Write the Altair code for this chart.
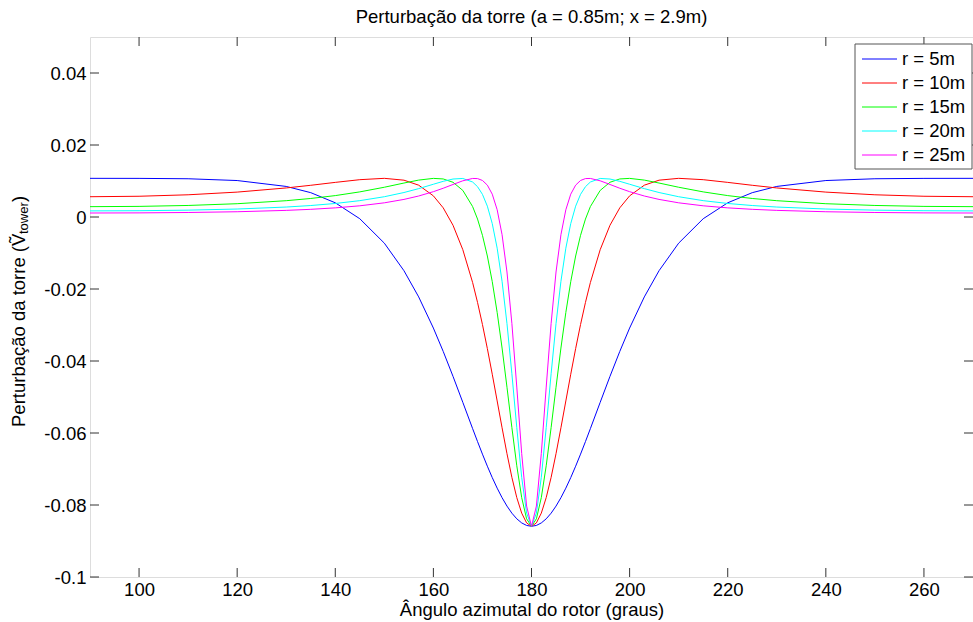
import altair as alt
import pandas as pd

# Azimuth angle (degrees)
ANGLES = [90, 100, 110, 120, 130, 135, 140, 145, 150, 154, 157, 160, 162, 164, 166, 168, 169,
          170, 171, 172, 173, 174, 175, 176, 177, 178, 179, 180, 181, 182, 183, 184, 185, 186,
          187, 188, 189, 190, 191, 192, 194, 196, 198, 200, 203, 206, 210, 215, 220, 225, 230,
          240, 250, 260, 270]

R5 = [0.010738, 0.010729, 0.010624, 0.010128, 0.008491, 0.006759, 0.003949, -0.000484, -0.007262,
      -0.01492, -0.02220, -0.03085, -0.03733, -0.04426, -0.05149, -0.05879, -0.06238, -0.06587,
      -0.06922, -0.07239, -0.07532, -0.07797, -0.08030, -0.08227, -0.08384, -0.08498, -0.08568,
      -0.08591,
      -0.08568, -0.08498, -0.08384, -0.08227, -0.08030, -0.07797, -0.07532, -0.07239, -0.06922,
      -0.06587, -0.06238, -0.05879, -0.05149, -0.04426, -0.03733, -0.03085, -0.02220, -0.01492,
      -0.007262, -0.000484, 0.003949, 0.006759, 0.008491, 0.010128, 0.010624, 0.010729, 0.010738]

R10 = [0.005631, 0.005761, 0.006171, 0.006915, 0.008069, 0.008808, 0.009615, 0.010369, 0.010738,
       0.010230, 0.008837, 0.005875, 0.002552, -0.002291, -0.009083, -0.01822, -0.02373, -0.02986,
       -0.03655, -0.04368, -0.05110, -0.05855, -0.06574, -0.07233, -0.07795, -0.08226, -0.08498,
       -0.08591,
       -0.08498, -0.08226, -0.07795, -0.07233, -0.06574, -0.05855, -0.05110, -0.04368, -0.03655,
       -0.02986, -0.02373, -0.01822, -0.009083, -0.002291, 0.002552, 0.005875, 0.008837, 0.010230,
       0.010738, 0.010369, 0.009615, 0.008808, 0.008069, 0.006915, 0.006171, 0.005761, 0.005631]

R15 = [0.002872, 0.002951, 0.003206, 0.003691, 0.004528, 0.005144, 0.005945, 0.006976, 0.008267,
       0.009433, 0.010250, 0.010728, 0.010570, 0.009646, 0.007384, 0.002891, -0.000572, -0.005087,
       -0.010834, -0.01796, -0.02652, -0.03640, -0.04728, -0.05850, -0.06911, -0.07795, -0.08384,
       -0.08591,
       -0.08384, -0.07795, -0.06911, -0.05850, -0.04728, -0.03640, -0.02652, -0.01796, -0.010834,
       -0.005087, -0.000572, 0.002891, 0.007384, 0.009646, 0.010570, 0.010728, 0.010250, 0.009433,
       0.008267, 0.006976, 0.005945, 0.005144, 0.004528, 0.003691, 0.003206, 0.002951, 0.002872]

R20 = [0.001696, 0.001746, 0.001905, 0.002215, 0.002766, 0.003187, 0.003757, 0.004541, 0.005631,
       0.006801, 0.007882, 0.009100, 0.009908, 0.010549, 0.010704, 0.009714, 0.008424, 0.006295,
       0.003008, -0.001833, -0.008662, -0.01787, -0.02961, -0.04354, -0.05849, -0.07231, -0.08226,
       -0.08591,
       -0.08226, -0.07231, -0.05849, -0.04354, -0.02961, -0.01787, -0.008662, -0.001833, 0.003008,
       0.006295, 0.008424, 0.009714, 0.010704, 0.010549, 0.009908, 0.009100, 0.007882, 0.006801,
       0.005631, 0.004541, 0.003757, 0.003187, 0.002766, 0.002215, 0.001905, 0.001746, 0.001696]

R25 = [0.001110, 0.001143, 0.001251, 0.001461, 0.001839, 0.002133, 0.002539, 0.003110, 0.003940,
       0.004886, 0.005831, 0.007034, 0.007990, 0.009036, 0.010055, 0.010711, 0.010671, 0.010150,
       0.008852, 0.006344, 0.002014, -0.004919, -0.01528, -0.02958, -0.04724, -0.06570, -0.08029,
       -0.08591,
       -0.08029, -0.06570, -0.04724, -0.02958, -0.01528, -0.004919, 0.002014, 0.006344, 0.008852,
       0.010150, 0.010671, 0.010711, 0.010055, 0.009036, 0.007990, 0.007034, 0.005831, 0.004886,
       0.003940, 0.003110, 0.002539, 0.002133, 0.001839, 0.001461, 0.001251, 0.001143, 0.001110]

SERIES = ["r = 5m", "r = 10m", "r = 15m", "r = 20m", "r = 25m"]
COLORS = ["#0000FF", "#FF0000", "#00FF00", "#00FFFF", "#FF00FF"]
XTICKS = [100, 120, 140, 160, 180, 200, 220, 240, 260]
YTICKS = [-0.1, -0.08, -0.06, -0.04, -0.02, 0, 0.02, 0.04]

TITLE = "Perturbação da torre (a = 0.85m; x = 2.9m)"
XTITLE = "Ângulo azimutal do rotor (graus)"
YTITLE_MAIN = "Perturbação da torre (V\u0303"
YTITLE_SUB = "tower"
YTITLE_END = ")"

FONT = "Liberation Sans, Arial, Helvetica"
FS = 18.5
AX = "#333333"

rows = []
for name, vals in zip(SERIES, [R5, R10, R15, R20, R25]):
    for a, v in zip(ANGLES, vals):
        rows.append({"angle": a, "v": v, "serie": name})
df = pd.DataFrame(rows)

W, H = 883, 540
xs = alt.Scale(domain=[90, 270], nice=False, zero=False)
ys = alt.Scale(domain=[-0.1, 0.05], nice=False, zero=False)

XAXIS = alt.Axis(values=XTICKS, tickSize=0, domain=False, grid=False,
                 labelPadding=3, labelFontSize=FS, labelFont=FONT, labelColor="black",
                 title=XTITLE, titleFontSize=FS, titleFont=FONT, titleFontWeight="normal",
                 titleColor="black", titlePadding=2)
YAXIS = alt.Axis(values=YTICKS, tickSize=0, domain=False, grid=False,
                 labelPadding=4, labelFontSize=FS, labelFont=FONT, labelColor="black",
                 labelExpr="toString(datum.value)", title="")

lines = alt.Chart(df).mark_line(strokeWidth=1, clip=True).encode(
    x=alt.X("angle:Q", scale=xs, axis=XAXIS),
    y=alt.Y("v:Q", scale=ys, axis=YAXIS),
    color=alt.Color("serie:N", scale=alt.Scale(domain=SERIES, range=COLORS), legend=None),
    order=alt.Order("angle:Q"),
)

xt = pd.DataFrame({"angle": XTICKS})
yt = pd.DataFrame({"v": YTICKS})
tick_b = alt.Chart(xt).mark_rule(color=AX, strokeWidth=1).encode(
    x=alt.X("angle:Q", scale=xs, axis=XAXIS), y=alt.value(H), y2=alt.value(H - 9))
tick_t = alt.Chart(xt).mark_rule(color=AX, strokeWidth=1).encode(
    x=alt.X("angle:Q", scale=xs, axis=XAXIS), y=alt.value(0), y2=alt.value(9))
tick_l = alt.Chart(yt).mark_rule(color=AX, strokeWidth=1).encode(
    y=alt.Y("v:Q", scale=ys, axis=YAXIS), x=alt.value(0), x2=alt.value(9))
tick_r = alt.Chart(yt).mark_rule(color=AX, strokeWidth=1).encode(
    y=alt.Y("v:Q", scale=ys, axis=YAXIS), x=alt.value(W), x2=alt.value(W - 9))

one = pd.DataFrame({"k": [0]})
yl_main = alt.Chart(one).mark_text(text=YTITLE_MAIN, angle=270, align="left", baseline="middle",
                                   fontSize=FS, font=FONT, color="black").encode(
    x=alt.value(-71), y=alt.value(390))
yl_sub = alt.Chart(one).mark_text(text=YTITLE_SUB, angle=270, align="left", baseline="middle",
                                  fontSize=13, font=FONT, color="black").encode(
    x=alt.value(-66), y=alt.value(197))
yl_end = alt.Chart(one).mark_text(text=YTITLE_END, angle=270, align="left", baseline="middle",
                                  fontSize=FS, font=FONT, color="black").encode(
    x=alt.value(-71), y=alt.value(165))

# Legend drawn by hand (box, line samples, labels) to match the MATLAB layout
LEG_L, LEG_R, LEG_T, LEG_B = 765, 882, 7, 132
legend_layers = [
    alt.Chart(one).mark_rect(fill="white", stroke="#555555", strokeWidth=1).encode(
        x=alt.value(LEG_L), x2=alt.value(LEG_R), y=alt.value(LEG_T), y2=alt.value(LEG_B))
]
for i, (name, col) in enumerate(zip(SERIES, COLORS)):
    yy = LEG_T + 15 + 24 * i
    legend_layers.append(
        alt.Chart(one).mark_rule(color=col, strokeWidth=1).encode(
            x=alt.value(LEG_L + 7), x2=alt.value(LEG_L + 42), y=alt.value(yy)))
    legend_layers.append(
        alt.Chart(one).mark_text(text=name, align="left", baseline="middle", fontSize=FS,
                                 font=FONT, color="black").encode(
            x=alt.value(LEG_L + 47), y=alt.value(yy)))

chart = alt.layer(lines, tick_b, tick_t, tick_l, tick_r, yl_main, yl_sub, yl_end,
                  *legend_layers).properties(
    width=W, height=H,
    title=alt.TitleParams(TITLE, fontSize=FS, font=FONT, fontWeight="normal", color="black",
                          anchor="middle", offset=10),
    padding={"left": 90, "top": 37, "right": 0, "bottom": 45},
    autosize=alt.AutoSizeParams(type="none"),
).configure_view(stroke=AX, strokeWidth=1).configure(background="white")

chart.save("out.html", embed_options={"renderer": "svg", "actions": False})
